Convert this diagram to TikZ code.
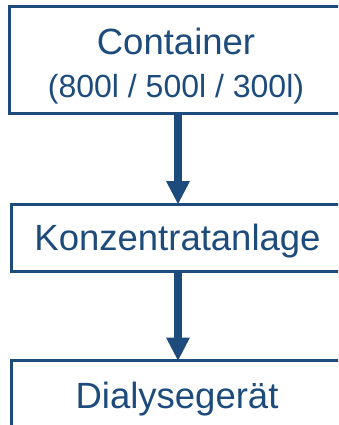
\documentclass[tikz,border=0pt]{standalone}
\usepackage{fontspec}
\setmainfont{Liberation Sans}
\usetikzlibrary{arrows.meta}
\definecolor{db}{HTML}{1D4C7C}
\begin{document}
\begin{tikzpicture}[x=1pt,y=-1pt,
  box/.style={draw=db, line width=3pt, fill=white, inner sep=0pt, outer sep=0pt, anchor=north west},
  lbl/.style={text=db, anchor=base, inner sep=0pt},
  big/.style={font=\fontsize{36.5}{40}\selectfont},
  small/.style={font=\fontsize{32}{36}\selectfont},
  flow/.style={draw=db, line width=8.5pt, -{Triangle[width=24pt,length=23pt,line width=0pt]}}]
\useasboundingbox (0,0) rectangle (338,425);
\clip (0,0) rectangle (338,425);
\node[box, minimum width=338pt, minimum height=106pt] (c) at (9,7) {};
\node[box, minimum width=334pt, minimum height=67pt] (k) at (11,204) {};
\node[box, minimum width=334pt, minimum height=90pt] (d) at (11,360.5) {};
\node[lbl, big] (t1) at (176,55) {Container};
\node[lbl, small] (t2) at (176,98) {(800l / 500l / 300l)};
\node[lbl, big] (t3) at (177.5,250) {Konzentratanlage};
\node[lbl, big] (t4) at (177,408) {Dialysegerät};
\draw[flow] (c.south) -- (k.north);
\draw[flow] (k.south) -- (d.north);
\end{tikzpicture}
\end{document}
